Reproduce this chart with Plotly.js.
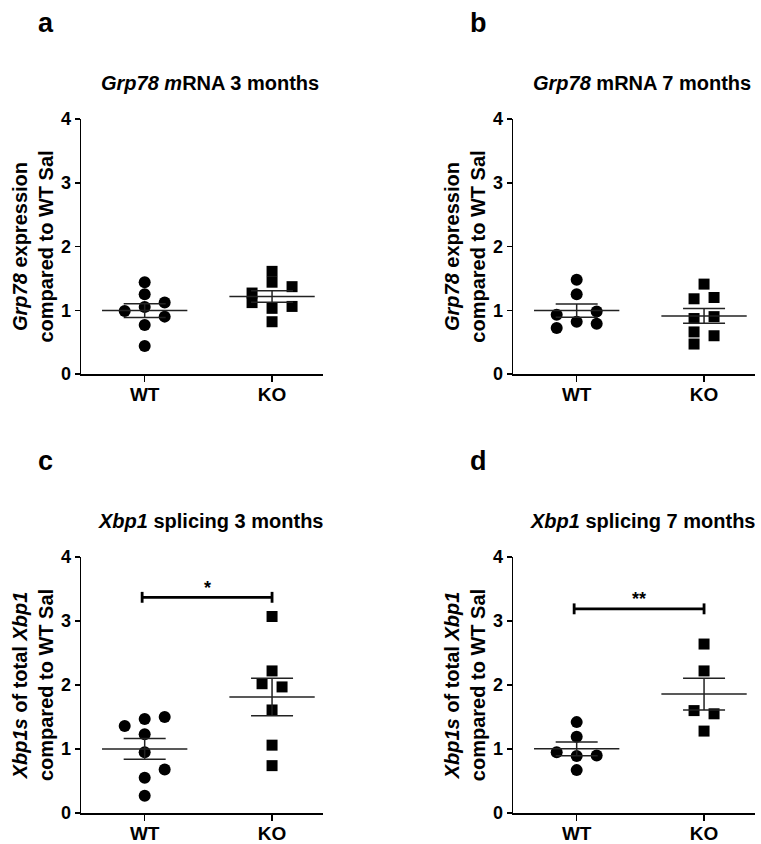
<!DOCTYPE html>
<html><head><meta charset="utf-8">
<script src="https://cdn.plot.ly/plotly-3.0.1.min.js"></script>
<style>html,body{margin:0;padding:0;background:#fff}</style>
</head><body><div id="chart" style="width:761px;height:844px"></div>
<script>
// ---- data ----
const categories = ['WT', 'KO'];
const panelLetters = ['a', 'b', 'c', 'd'];
const panelTitles = [
  '<i>Grp78 m</i>RNA 3 months',
  '<i>Grp78</i> mRNA 7 months',
  '<i>Xbp1</i> splicing 3 months',
  '<i>Xbp1</i> splicing 7 months'
];
const yTitles = [
  '<i>Grp78</i> expression<br>compared to WT Sal',
  '<i>Grp78</i> expression<br>compared to WT Sal',
  '<i>Xbp1s</i> of total <i>Xbp1</i><br>compared to WT Sal',
  '<i>Xbp1s</i> of total <i>Xbp1</i><br>compared to WT Sal'
];
// panel a: Grp78 3 months
const grp78_3m_WT = [1.44, 1.25, 1.05, 0.77, 0.44, 0.99, 1.12, 0.90];
const grp78_3m_KO = [1.61, 1.44, 1.03, 0.82, 1.27, 1.12, 1.37, 1.06];
// panel b: Grp78 7 months
const grp78_7m_WT = [1.48, 1.25, 0.82, 0.93, 0.72, 0.98, 0.79];
const grp78_7m_KO = [1.41, 1.18, 0.87, 0.66, 0.47, 1.20, 0.90, 0.60];
// panel c: Xbp1 splicing 3 months
const xbp1_3m_WT = [1.47, 1.23, 0.95, 0.55, 0.27, 1.36, 1.50, 0.68];
const xbp1_3m_KO = [3.07, 2.22, 1.61, 1.06, 0.74, 2.02, 1.97];
// panel d: Xbp1 splicing 7 months
const xbp1_7m_WT = [1.42, 1.19, 0.89, 0.67, 0.95, 0.90];
const xbp1_7m_KO = [2.64, 2.22, 1.28, 1.60, 1.55];
// significance labels
const sigLabels = ['', '', '*', '**'];

// ---- scatter-dot column layout (style, not data) ----
const colA_WT = [0, 0, 0, 0, 0, -2, 2, 2];
const colA_KO = [0, 0, 0, 0, -2, -2, 2, 2];
const colB_WT = [0, 0, 0, -2, -2, 2, 2];
const colB_KO = [0, -1, -1, -1, -1, 1, 1, 1];
const colC_WT = [0, 0, 0, 0, 0, -2, 2, 2];
const colC_KO = [0, 0, 0, 0, 0, -1, 1];
const colD_WT = [0, 0, 0, 0, -2, 2];
const colD_KO = [0, 0, 0, -1, 1];

const W = 761, H = 844;
const FONT = '"Liberation Sans", Arial, sans-serif';
const COLSTEP = 0.0785;
const px = v => v / W;
const py = v => 1 - v / H;

const panels = [
  {wt: grp78_3m_WT, ko: grp78_3m_KO, cw: colA_WT, ck: colA_KO, xd: [81, 323], yd: [119, 374]},
  {wt: grp78_7m_WT, ko: grp78_7m_KO, cw: colB_WT, ck: colB_KO, xd: [513, 755], yd: [119, 374]},
  {wt: xbp1_3m_WT, ko: xbp1_3m_KO, cw: colC_WT, ck: colC_KO, xd: [81, 323], yd: [557, 813]},
  {wt: xbp1_7m_WT, ko: xbp1_7m_KO, cw: colD_WT, ck: colD_KO, xd: [513, 755], yd: [557, 813]}
];

function mean(a) { return a.reduce((s, v) => s + v, 0) / a.length; }
function sem(a) {
  const m = mean(a);
  const v = a.reduce((s, x) => s + (x - m) * (x - m), 0) / (a.length - 1);
  return Math.sqrt(v) / Math.sqrt(a.length);
}

const traces = [];
const layout = {
  width: W, height: H, margin: {l: 0, r: 0, t: 0, b: 0},
  paper_bgcolor: '#fff', plot_bgcolor: '#fff', showlegend: false,
  font: {family: FONT, color: '#000'},
  annotations: [], shapes: []
};

panels.forEach((p, i) => {
  const n = i === 0 ? '' : String(i + 1);
  const xa = 'x' + n, ya = 'y' + n;
  const groups = [p.wt, p.ko];
  const cols = [p.cw, p.ck];
  const symbols = ['circle', 'square'];
  const sizes = [12, 11];
  groups.forEach((g, gi) => {
    traces.push({
      type: 'scatter', mode: 'markers', xaxis: xa, yaxis: ya,
      x: g.map((v, k) => gi + cols[gi][k] * COLSTEP), y: g,
      marker: {symbol: symbols[gi], size: sizes[gi], color: '#000', line: {width: 0}},
      hoverinfo: 'y', name: categories[gi]
    });
    const m = mean(g), s = sem(g);
    traces.push({
      type: 'scatter', mode: 'lines', xaxis: xa, yaxis: ya,
      x: [gi - 0.335, gi + 0.335], y: [m, m],
      line: {color: '#222', width: 1.5}, hoverinfo: 'skip'
    });
    traces.push({
      type: 'scatter', mode: 'markers', xaxis: xa, yaxis: ya,
      x: [gi], y: [m],
      marker: {size: 1, color: 'rgba(0,0,0,0)'},
      error_y: {type: 'data', array: [s], visible: true, color: '#222', thickness: 1.5, width: 21},
      hoverinfo: 'skip'
    });
  });

  layout['xaxis' + n] = {
    domain: [px(p.xd[0]), px(p.xd[1])], anchor: ya,
    range: [-0.5, 1.4], tickvals: [0, 1], ticktext: categories,
    showline: true, linecolor: '#000', linewidth: 1.5,
    ticks: 'outside', ticklen: 6, tickwidth: 1.5, tickcolor: '#000',
    ticklabelstandoff: -3,
    showgrid: false, zeroline: false, fixedrange: true,
    tickfont: {family: FONT, size: 19, color: '#000', weight: 'bold'}
  };
  layout['yaxis' + n] = {
    domain: [py(p.yd[1]), py(p.yd[0])], anchor: xa,
    range: [0, 4], tickvals: [0, 1, 2, 3, 4],
    showline: true, linecolor: '#000', linewidth: 1.5,
    ticks: 'outside', ticklen: 5, tickwidth: 1.5, tickcolor: '#000',
    showgrid: false, zeroline: false, fixedrange: true,
    tickfont: {family: FONT, size: 18, color: '#000', weight: 'bold'},
    title: {text: yTitles[i], font: {family: FONT, size: 20, color: '#000', weight: 'bold'}, standoff: 2}
  };

  // panel title
  const tcx = p.xd[0] + 129;
  layout.annotations.push({
    xref: 'paper', yref: 'paper', x: px(tcx), y: py(p.yd[0] - 36),
    xanchor: 'center', yanchor: 'middle', showarrow: false,
    text: panelTitles[i], font: {family: FONT, size: 20, color: '#000', weight: 'bold'}
  });
  // panel letter
  layout.annotations.push({
    xref: 'paper', yref: 'paper', x: px(p.xd[0] - 45), y: py(p.yd[0] - 96),
    xanchor: 'left', yanchor: 'middle', showarrow: false,
    text: panelLetters[i], font: {family: FONT, size: 27, color: '#000', weight: 'bold'}
  });

  // significance bracket
  if (sigLabels[i]) {
    const by = i === 2 ? 3.37 : 3.19;
    const h = 0.085;
    const lw = 2.8;
    layout.shapes.push(
      {type: 'line', xref: xa, yref: ya, x0: -0.02, x1: 1, y0: by, y1: by, line: {color: '#000', width: lw}},
      {type: 'line', xref: xa, yref: ya, x0: -0.02, x1: -0.02, y0: by - h, y1: by + h, line: {color: '#000', width: lw}},
      {type: 'line', xref: xa, yref: ya, x0: 1, x1: 1, y0: by - h, y1: by + h, line: {color: '#000', width: lw}}
    );
    layout.annotations.push({
      xref: xa, yref: ya, x: 0.49, y: by - 0.04,
      xanchor: 'center', yanchor: 'bottom', showarrow: false,
      text: sigLabels[i], font: {family: FONT, size: 18, color: '#000', weight: 'bold'}
    });
  }
});

Plotly.newPlot('chart', traces, layout, {staticPlot: true, displayModeBar: false});
</script></body></html>
